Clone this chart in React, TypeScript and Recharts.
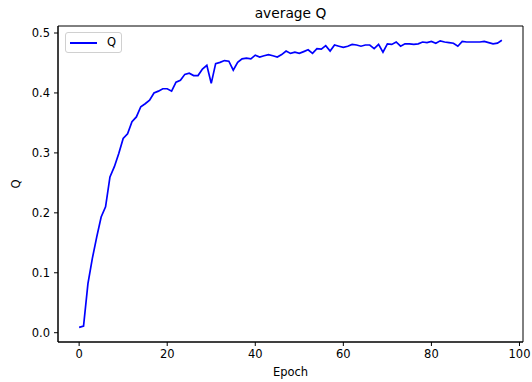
import { Legend, Line, LineChart, ReferenceArea, XAxis, YAxis } from "recharts"

// average Q per epoch (epoch = index)
const qValues = [
  0.009, 0.011, 0.082, 0.124, 0.16, 0.193, 0.21, 0.26, 0.277, 0.299,
  0.324, 0.332, 0.352, 0.36, 0.377, 0.382, 0.388, 0.4, 0.403, 0.407,
  0.407, 0.403, 0.418, 0.421, 0.431, 0.433, 0.429, 0.429, 0.44, 0.446,
  0.416, 0.449, 0.451, 0.454, 0.453, 0.438, 0.451, 0.457, 0.458, 0.457,
  0.463, 0.46, 0.462, 0.464, 0.462, 0.46, 0.464, 0.47, 0.466, 0.468,
  0.466, 0.469, 0.472, 0.466, 0.474, 0.473, 0.479, 0.47, 0.48, 0.478,
  0.476, 0.478, 0.481, 0.48, 0.478, 0.48, 0.48, 0.474, 0.481, 0.468,
  0.482, 0.481, 0.485, 0.478, 0.482, 0.482, 0.481, 0.482, 0.485, 0.484,
  0.486, 0.483, 0.487, 0.485, 0.484, 0.483, 0.478, 0.486, 0.485, 0.485,
  0.485, 0.485, 0.486, 0.484, 0.482, 0.483, 0.488,
]

const xTicks = [0, 20, 40, 60, 80, 100]
const yTicks = [0, 0.1, 0.2, 0.3, 0.4, 0.5]
const xDomain: [number, number] = [-4.8, 100.8]
const yDomain: [number, number] = [-0.0155, 0.5117]

const data = qValues.map((q, i) => ({ epoch: i, q }))

const font = "'DejaVu Sans', sans-serif"
const tickStyle = { fontSize: 11.5, fill: "#000", fontFamily: font }

function renderLegend() {
  return (
    <div
      style={{
        boxSizing: "border-box",
        width: 57,
        height: 21,
        border: "1px solid #d0d0d0",
        borderRadius: 3,
        background: "rgba(255,255,255,0.8)",
        position: "relative",
        fontFamily: font,
        fontSize: 11.5,
      }}
    >
      <div
        style={{
          position: "absolute",
          left: 4,
          top: 9,
          width: 27,
          height: 0,
          borderTop: "2px solid #0000ff",
        }}
      />
      <span style={{ position: "absolute", left: 41, top: 2, color: "#000" }}>Q</span>
    </div>
  )
}

export default function App() {
  return (
    <div style={{ position: "absolute", left: 0, top: 0 }}>
      <LineChart
        width={532}
        height={382}
        data={data}
        margin={{ top: 26, right: 9, bottom: 0, left: 0 }}
        style={{ fontFamily: font }}
      >
        <XAxis
          dataKey="epoch"
          type="number"
          domain={xDomain}
          ticks={xTicks}
          allowDataOverflow
          height={40}
          tickSize={4}
          tickMargin={4}
          tick={tickStyle}
          stroke="#000"
          label={{
            content: () => (
              <g>
                <text x={290.5} y={376} textAnchor="middle" fontSize={11.5} fill="#000" fontFamily={font}>
                  Epoch
                </text>
                <text x={290.5} y={18} textAnchor="middle" fontSize={13.8} fill="#000" fontFamily={font}>
                  average Q
                </text>
              </g>
            ),
          }}
        />
        <YAxis
          type="number"
          domain={yDomain}
          ticks={yTicks}
          allowDataOverflow
          width={58}
          tickSize={4}
          tickMargin={4}
          tick={tickStyle}
          stroke="#000"
          tickFormatter={(v: number) => v.toFixed(1)}
          label={{
            content: () => (
              <text
                x={20}
                y={184}
                textAnchor="middle"
                fontSize={11.5}
                fill="#000"
                fontFamily={font}
                transform="rotate(-90 20 184)"
              >
                Q
              </text>
            ),
          }}
        />
        <ReferenceArea
          x1={xDomain[0]}
          x2={xDomain[1]}
          y1={yDomain[0]}
          y2={yDomain[1]}
          fill="none"
          stroke="#000"
          strokeWidth={1}
          fillOpacity={0}
        />
        <Legend
          layout="vertical"
          align="center"
          verticalAlign="middle"
          wrapperStyle={{ left: 65, top: 32, width: 57, height: 21 }}
          content={renderLegend}
        />
        <Line
          dataKey="q"
          name="Q"
          type="linear"
          stroke="#0000ff"
          strokeWidth={1.7}
          dot={false}
          activeDot={false}
          isAnimationActive={false}
        />
      </LineChart>
    </div>
  )
}
